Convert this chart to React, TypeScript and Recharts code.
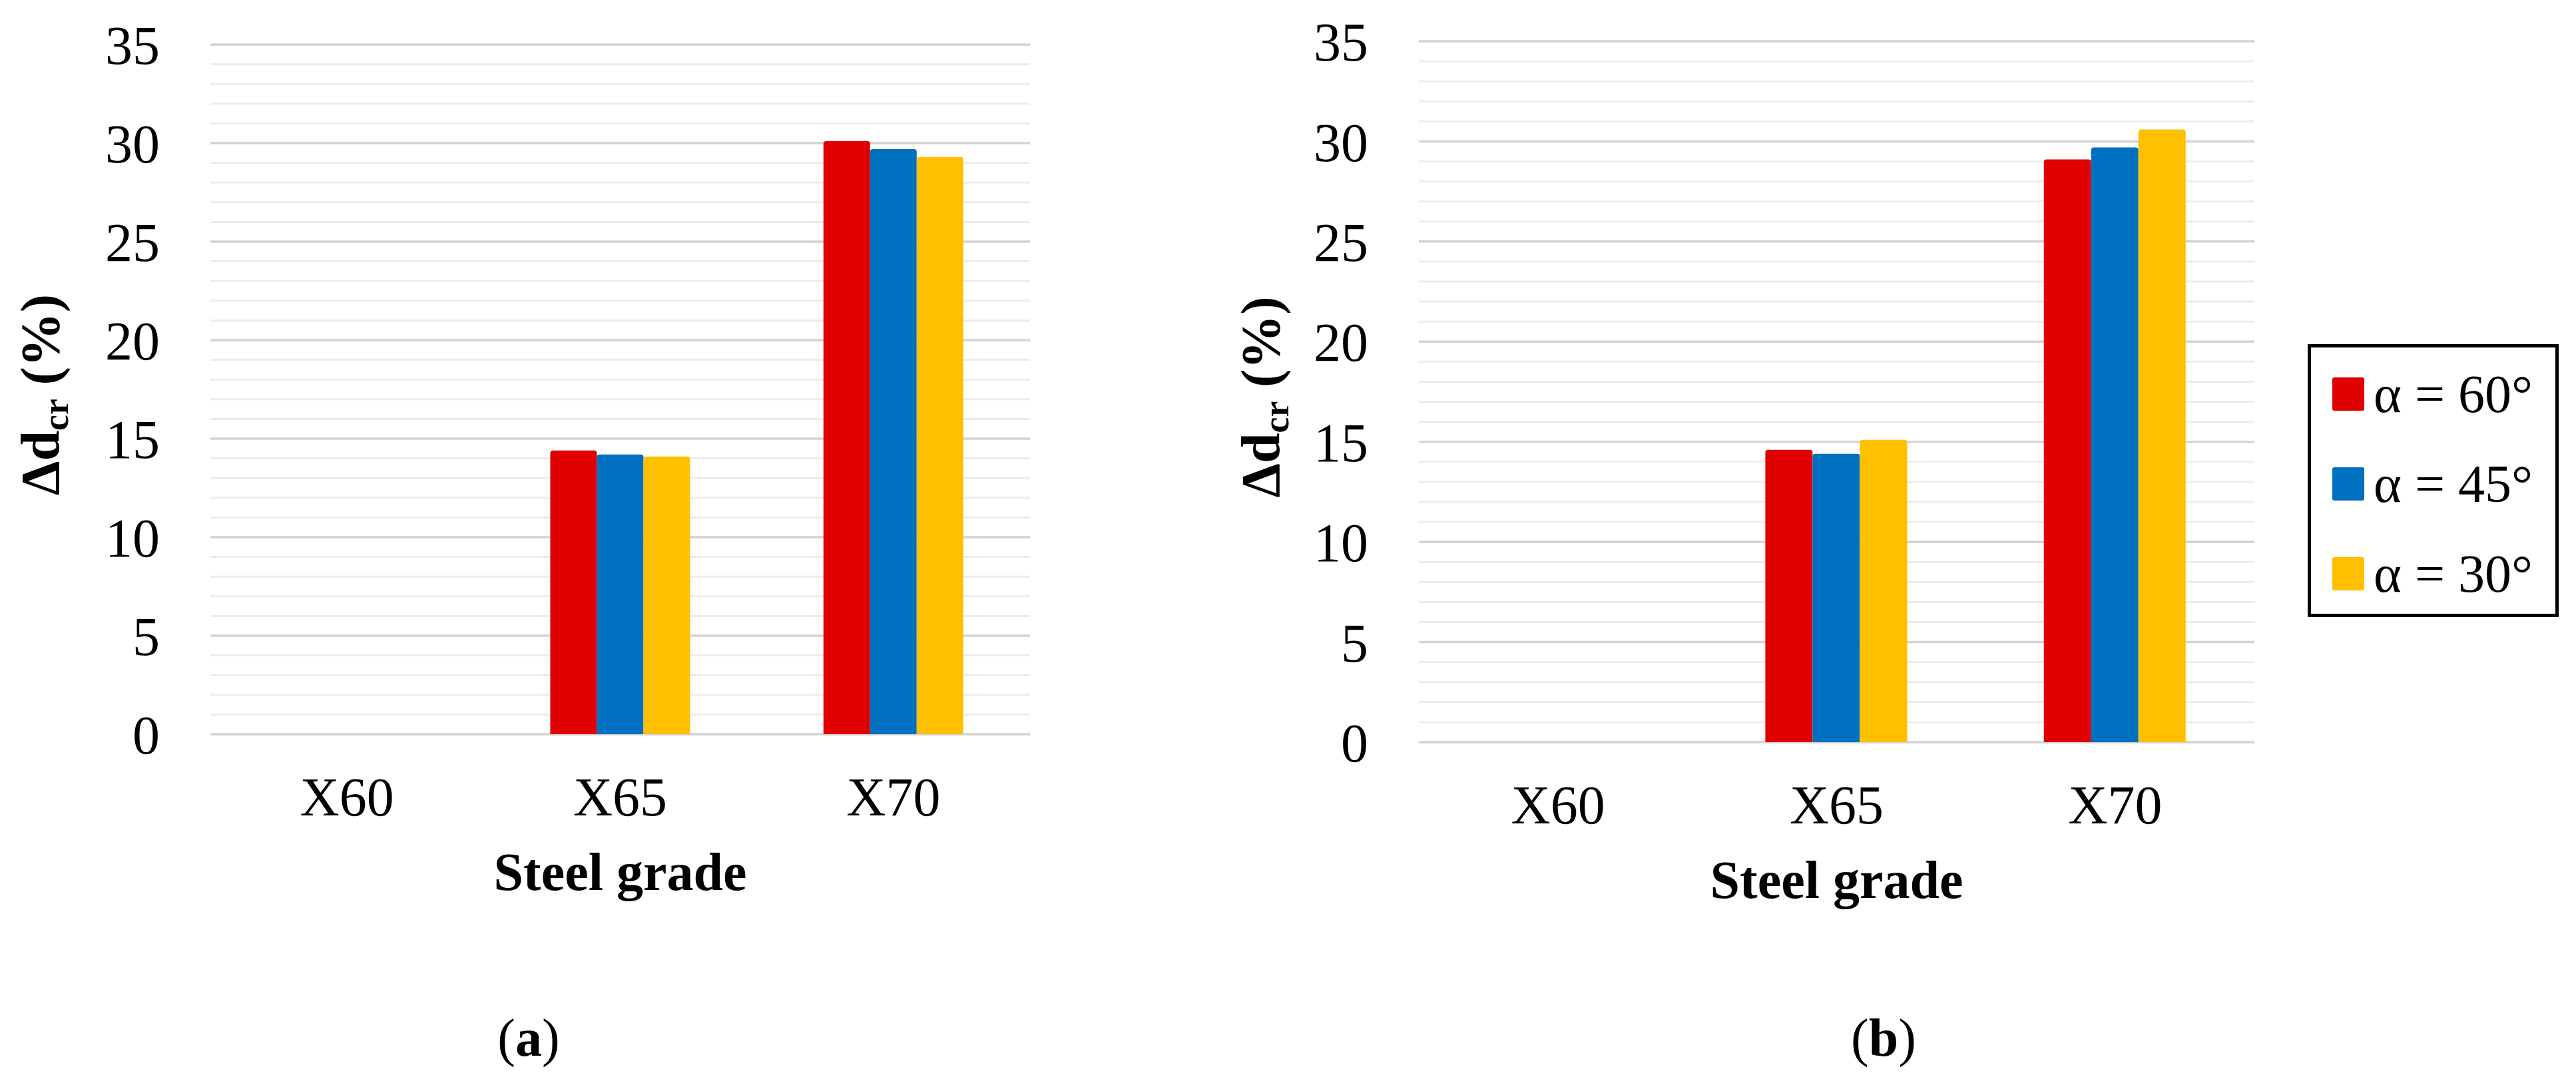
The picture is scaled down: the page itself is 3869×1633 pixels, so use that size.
import React from 'react';
import { BarChart, Bar, XAxis, YAxis, CartesianGrid, Legend } from 'recharts';

const grades = ['X60', 'X65', 'X70'];

// panel (a)
const a60 = [0, 14.4, 30.1];
const a45 = [0, 14.2, 29.7];
const a30 = [0, 14.1, 29.3];

// panel (b)
const b60 = [0, 14.6, 29.1];
const b45 = [0, 14.4, 29.7];
const b30 = [0, 15.1, 30.6];

const seriesNames = ['α = 60°', 'α = 45°', 'α = 30°'];
const COLORS = ['#E00000', '#0070C0', '#FFC000'];

const majorTicks = [0, 5, 10, 15, 20, 25, 30, 35];
const minorTicks = [
  0, 1, 2, 3, 4, 5, 6, 7, 8, 9, 10, 11, 12, 13, 14, 15, 16, 17,
  18, 19, 20, 21, 22, 23, 24, 25, 26, 27, 28, 29, 30, 31, 32, 33, 34, 35,
];

const FONT = '"Liberation Serif", "Times New Roman", serif';

const buildRows = (s60: number[], s45: number[], s30: number[]) =>
  grades.map((g, i) => ({ grade: g, s60: s60[i], s45: s45[i], s30: s30[i] }));

const dataA = buildRows(a60, a45, a30);
const dataB = buildRows(b60, b45, b30);

const YLabel = ({ viewBox, dx }: any) => {
  const x = viewBox.x + dx;
  const y = viewBox.y + viewBox.height / 2 + 8;
  return (
    <text
      x={x}
      y={y}
      transform={`rotate(-90, ${x}, ${y})`}
      textAnchor="middle"
      fontFamily={FONT}
      fontWeight="bold"
      fontSize={82}
      fill="#000"
    >
      <tspan>Δd</tspan>
      <tspan fontSize={54} dy={14}>cr</tspan>
      <tspan dy={-14}> (%)</tspan>
    </text>
  );
};

const XLabel = ({ viewBox }: any) => (
  <text
    x={viewBox.x + viewBox.width / 2}
    y={viewBox.y + 234}
    textAnchor="middle"
    fontFamily={FONT}
    fontWeight="bold"
    fontSize={80}
    fill="#000"
  >
    Steel grade
  </text>
);

const renderLegend = (props: any) => {
  // keep the series order (Recharts sorts the payload by name)
  const items = [...props.payload].sort(
    (p: any, q: any) => seriesNames.indexOf(p.value) - seriesNames.indexOf(q.value)
  );
  return (
    <div
      style={{
        border: '5px solid #000',
        boxSizing: 'border-box',
        width: 377,
        height: 410,
        background: '#fff',
        paddingTop: 2,
      }}
    >
      {items.map((entry: any) => (
        <div
          key={entry.value}
          style={{ display: 'flex', alignItems: 'center', height: 135, paddingLeft: 32 }}
        >
          <span
            style={{
              display: 'inline-block',
              width: 48,
              height: 50,
              borderRadius: 3,
              background: entry.color,
              marginRight: 14,
            }}
          />
          <span style={{ fontFamily: FONT, fontSize: 80, color: '#000', lineHeight: 1 }}>
            {entry.value}
          </span>
        </div>
      ))}
    </div>
  );
};

const Panel = ({ data, width, margin, yWidth, labelDx, legend }: any) => (
  <BarChart
    width={width}
    height={1633}
    data={data}
    margin={margin}
    barCategoryGap="24.4%"
    barGap={0}
  >
    <CartesianGrid vertical={false} horizontalValues={minorTicks} stroke="#ececec" strokeWidth={3} />
    <CartesianGrid vertical={false} horizontalValues={majorTicks} stroke="#d4d4d4" strokeWidth={3.5} />
    <XAxis
      dataKey="grade"
      axisLine={false}
      tickLine={false}
      height={130}
      tickMargin={58}
      tick={{ fontFamily: FONT, fontSize: 82, fill: '#000' }}
      label={<XLabel />}
    />
    <YAxis
      domain={[0, 35]}
      ticks={majorTicks}
      interval={0}
      axisLine={false}
      tickLine={false}
      width={yWidth}
      tickMargin={70}
      tick={{ fontFamily: FONT, fontSize: 82, fill: '#000' }}
      label={<YLabel dx={labelDx} />}
    />
    {legend && (
      <Legend
        layout="horizontal"
        verticalAlign="middle"
        align="center"
        content={renderLegend}
        wrapperStyle={{ left: 1666, top: 517, width: 377, height: 410 }}
      />
    )}
    <Bar dataKey="s60" name={seriesNames[0]} fill={COLORS[0]} radius={[4, 4, 0, 0]} isAnimationActive={false} />
    <Bar dataKey="s45" name={seriesNames[1]} fill={COLORS[1]} radius={[4, 4, 0, 0]} isAnimationActive={false} />
    <Bar dataKey="s30" name={seriesNames[2]} fill={COLORS[2]} radius={[4, 4, 0, 0]} isAnimationActive={false} />
  </BarChart>
);

const captionStyle: React.CSSProperties = {
  position: 'absolute',
  top: 1519,
  width: 200,
  textAlign: 'center',
  fontFamily: FONT,
  fontSize: 80,
  lineHeight: '80px',
  color: '#000',
};

export default function App() {
  return (
    <div
      style={{
        position: 'absolute',
        left: 0,
        top: 0,
        width: 3869,
        height: 1633,
        background: '#fff',
        overflow: 'hidden',
      }}
    >
      <div style={{ position: 'absolute', left: 0, top: 0 }}>
        <Panel
          data={dataA}
          width={1933}
          margin={{ top: 67, right: 386, bottom: 400, left: 0 }}
          yWidth={316}
          labelDx={88}
          legend={false}
        />
      </div>
      <div style={{ position: 'absolute', left: 1800, top: 0 }}>
        <Panel
          data={dataB}
          width={2069}
          margin={{ top: 62, right: 483, bottom: 388, left: 0 }}
          yWidth={331}
          labelDx={121}
          legend
        />
      </div>
      <div style={{ ...captionStyle, left: 794 - 100 }}>
        (<b>a</b>)
      </div>
      <div style={{ ...captionStyle, left: 2829 - 100 }}>
        (<b>b</b>)
      </div>
    </div>
  );
}
